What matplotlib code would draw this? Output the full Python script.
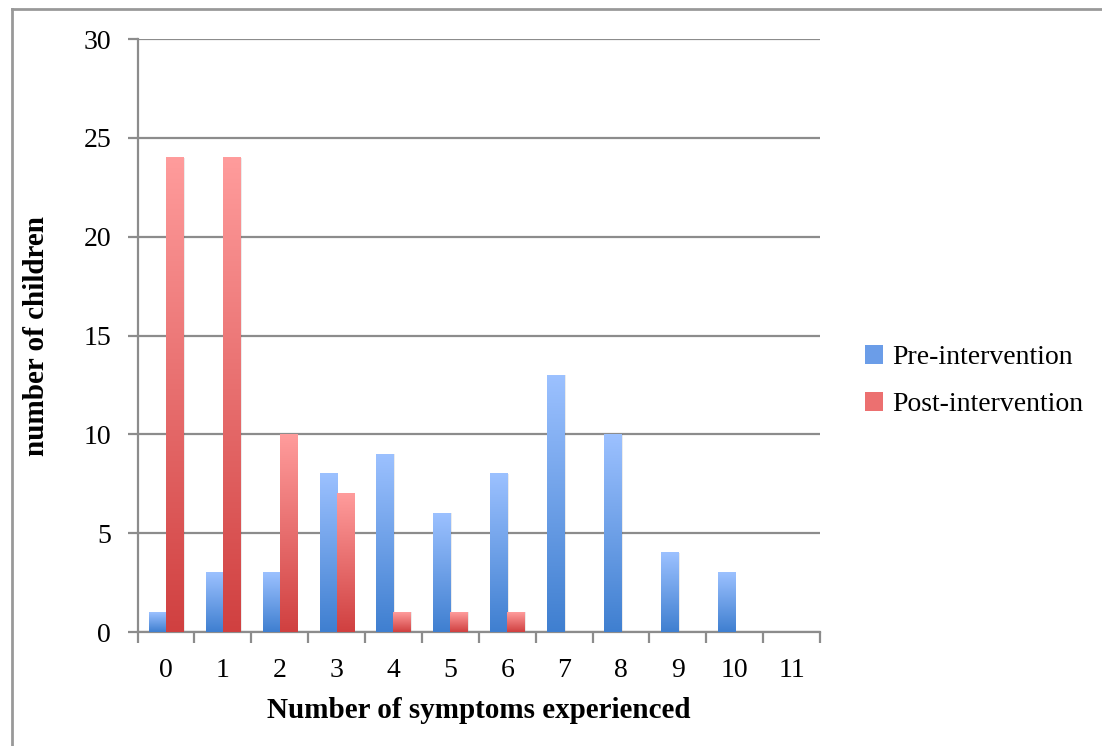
import numpy as np
import matplotlib.pyplot as plt
from matplotlib.colors import LinearSegmentedColormap
from matplotlib.lines import Line2D
from matplotlib.patches import Patch

categories = [str(i) for i in range(12)]
pre = [1, 3, 3, 8, 9, 6, 8, 13, 10, 4, 3, 0]
post = [24, 24, 10, 7, 1, 1, 1, 0, 0, 0, 0, 0]

plt.rcParams['font.family'] = ['Liberation Serif', 'DejaVu Serif']

fig = plt.figure(figsize=(11.02, 7.46), dpi=100)
ax = fig.add_axes([0.1248, 0.1528, 0.6193, 0.7949])

x = np.arange(len(categories))
w = 0.3
grey = '#8c8c8c'

blue_cm = LinearSegmentedColormap.from_list('b', ['#3f7fd0', '#9cc1ff'])
red_cm = LinearSegmentedColormap.from_list('r', ['#d04040', '#ff9c9c'])
grad = np.linspace(0, 1, 256).reshape(-1, 1)

bars_pre = ax.bar(x - w / 2, pre, w, color='none', zorder=3)
bars_post = ax.bar(x + w / 2, post, w, color='none', zorder=3)

# gradient fill + faint shadow
for bars, cm in [(bars_pre, blue_cm), (bars_post, red_cm)]:
    for b in bars:
        h = b.get_height()
        if h <= 0:
            continue
        x0 = b.get_x()
        bw = b.get_width()
        ax.bar(x0 + bw / 2 + 0.03, h, bw, bottom=0, color='#000000', alpha=0.08,
               zorder=2.5, linewidth=0)
        ax.imshow(grad, extent=[x0, x0 + bw, 0, h], origin='lower', cmap=cm,
                  aspect='auto', zorder=3)

ax.set_xlim(-0.5, 11.5)
ax.set_ylim(0, 30)
ax.set_yticks(range(0, 31, 5))
ax.grid(axis='y', color=grey, linewidth=1.6, zorder=1)
ax.set_axisbelow(True)

ax.set_xticks(x)
ax.set_xticklabels(categories)
ax.set_xticks(np.arange(-0.5, 12, 1), minor=True)
ax.tick_params(axis='x', which='major', length=0, pad=19, labelsize=20)
ax.tick_params(axis='x', which='minor', length=8, width=1.6, color=grey)
ax.tick_params(axis='y', length=7, width=1.6, color=grey, pad=12, labelsize=20)

for s in ['top', 'right']:
    ax.spines[s].set_visible(False)
for s in ['left', 'bottom']:
    ax.spines[s].set_color(grey)
    ax.spines[s].set_linewidth(1.6)

ax.set_xlabel('Number of symptoms experienced', fontsize=21, fontweight='bold', labelpad=10)
ax.set_ylabel('number of children', fontsize=21, fontweight='bold', labelpad=24)

handles = [Patch(facecolor='#6b9de8', label='Pre-intervention'),
           Patch(facecolor='#ec7070', label='Post-intervention')]
fig.legend(handles=handles, loc='center left', bbox_to_anchor=(0.762, 0.489),
           frameon=False, fontsize=20, handlelength=0.65, handleheight=0.65,
           handletextpad=0.35, labelspacing=0.8)

# outer chart border
fig.add_artist(Line2D([0.011, 0.011], [0, 0.988], color='#999999', lw=2))
fig.add_artist(Line2D([0.011, 1], [0.988, 0.988], color='#999999', lw=2))

fig.savefig('out.png', dpi=100)
